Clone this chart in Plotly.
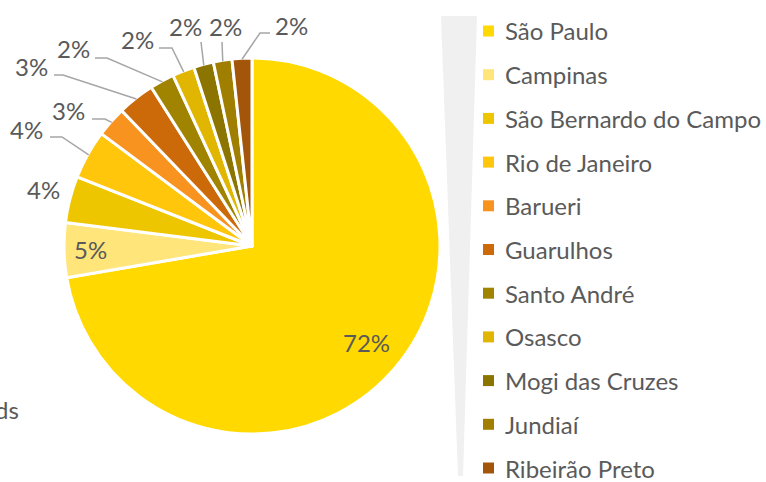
import math
import plotly.graph_objects as go

# ---- data ----
cities = ["São Paulo", "Campinas", "São Bernardo do Campo", "Rio de Janeiro", "Barueri",
          "Guarulhos", "Santo André", "Osasco", "Mogi das Cruzes", "Jundiaí", "Ribeirão Preto"]
shares = [72.3, 4.7, 4.0, 4.2, 2.6, 3.2, 2.1, 1.9, 1.7, 1.6, 1.7]
colors = ["#FFD900", "#FFE57A", "#EEC600", "#FFC60B", "#F7931E", "#CC6A0A",
          "#A08400", "#E0B600", "#8C7400", "#A07E00", "#A3560A"]

W, H = 766, 482
CX, CY, R = 252, 246, 188
TXT = "#5A5A5A"
FONT = "Lato"
FS = 24

def px(x):
    return x / W

def py(y):
    return 1 - y / H

fig = go.Figure(go.Pie(
    labels=cities, values=shares, sort=False, direction="clockwise", rotation=0,
    marker=dict(colors=colors, line=dict(color="white", width=3)),
    textinfo="none", hoverinfo="label+percent", showlegend=False,
    domain=dict(x=[px(CX - R), px(CX + R)], y=[py(CY + R), py(CY - R)]),
))

total = sum(shares)
mids = []
acc = 0
for v in shares:
    mids.append((acc + v / 2) / total * 2 * math.pi)
    acc += v

def polar(theta, rad):
    return CX + rad * math.sin(theta), CY - rad * math.cos(theta)

annotations = []
shapes = []

def label(x, y, text, xanchor="center"):
    annotations.append(dict(x=px(x), y=py(y), xref="paper", yref="paper", text=text,
                            xanchor=xanchor, yanchor="middle", showarrow=False,
                            font=dict(family=FONT, size=FS, color=TXT)))

# inside labels (radius fraction)
inside = {0: 0.8, 1: 0.86}
# outside label layout: index -> (text center, elbow, line end)
outside = {
    2: ((43, 190), None, None),
    3: ((26, 130), (62, 137), (50, 137)),
    4: ((68, 111), (105, 119), (92, 119)),
    5: ((31, 67), (63, 75), (54, 75)),
    6: ((73, 49), (107, 58), (95, 58)),
    7: ((137, 39), (172, 48), (159, 48)),
    8: ((185, 26), (201, 42), (201, 42)),
    9: ((225, 26), (222, 42), (222, 42)),
    10: ((291, 25), (260, 33), (270, 33)),
}

for i, v in enumerate(shares):
    pct = f"{round(v / total * 100):d}%"
    if i in inside:
        x, y = polar(mids[i], R * inside[i])
        label(x, y, pct)
    else:
        (tx, ty), elbow, end = outside[i]
        label(tx, ty, pct)
        if elbow is not None:
            ex, ey = polar(mids[i], R - 1)
            path = f"M {px(ex)} {py(ey)} L {px(elbow[0])} {py(elbow[1])} L {px(end[0])} {py(end[1])}"
            shapes.append(dict(type="path", xref="paper", yref="paper", path=path,
                               line=dict(color="#A6A6A6", width=1.5)))

# decorative tapered band
shapes.append(dict(type="path", xref="paper", yref="paper", layer="below",
                   path=f"M {px(441)} {py(16)} L {px(477)} {py(16)} L {px(463)} {py(476)} L {px(458)} {py(476)} Z",
                   fillcolor="#F0F0F0", line=dict(width=0)))

# legend (manual)
LEG_Y0, LEG_DY = 31, 43.7
for i, c in enumerate(cities):
    yc = LEG_Y0 + i * LEG_DY
    shapes.append(dict(type="rect", xref="paper", yref="paper",
                       x0=px(483), x1=px(494), y0=py(yc + 5.5), y1=py(yc - 5.5),
                       fillcolor=colors[i], line=dict(width=0)))
    label(503, yc, c, xanchor="left")

# cut-off text at the left edge
label(21, 409, "ds", xanchor="right")

fig.update_layout(
    width=W, height=H, margin=dict(l=0, r=0, t=0, b=0),
    paper_bgcolor="white", plot_bgcolor="white",
    annotations=annotations, shapes=shapes,
)

fig.write_html("out.html", config={"displayModeBar": False},
               post_script="document.body.style.margin='0';")
